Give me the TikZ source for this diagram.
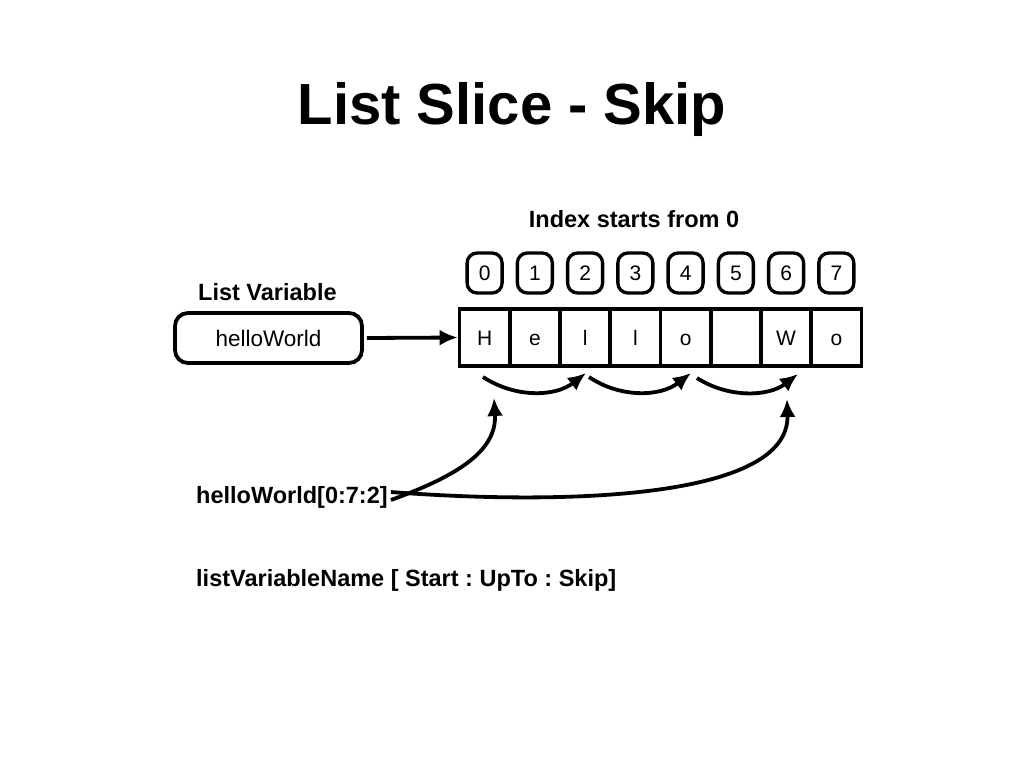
\documentclass[tikz,border=0pt]{standalone}
\usepackage{fontspec}
\setmainfont{Liberation Sans}
\usetikzlibrary{arrows.meta}
\frenchspacing
\tikzset{
  cell/.style={draw, line width=3.6pt, minimum width=50.25pt, minimum height=57pt, inner sep=0pt, text height=15pt, text depth=0pt, font=\fontsize{21}{23}\selectfont},
  idx/.style={draw, line width=3.3pt, rounded corners=10pt, minimum width=35pt, minimum height=40pt, inner sep=0pt, font=\fontsize{21}{23}\selectfont},
  varbox/.style={draw, line width=3.8pt, rounded corners=13pt, minimum width=187pt, minimum height=50pt, inner sep=0pt, font=\fontsize{22.5}{24}\selectfont},
  lbl/.style={font=\bfseries\fontsize{23.5}{25}\selectfont, inner sep=0pt},
  arr/.style={line width=3.8pt, -{Latex[length=18pt,width=16pt]}},
}
\begin{document}
\begin{tikzpicture}[x=1pt,y=-1pt]
\useasboundingbox[fill=white] (0,0) rectangle (1024,768);
\node[font=\bfseries\fontsize{58}{60}\selectfont] (title) at (512,110) {List Slice - Skip};
\node[lbl] (idxlbl) at (634,219) {Index starts from 0};
\node[lbl, anchor=west] (lv) at (198,292) {List Variable};
\node[varbox] (hw) at (268.5,338) {helloWorld};
\foreach \t [count=\i from 0] in {H,e,l,l,o,{},W,o} {
  \node[cell] (c\i) at ({484.6+50.25*\i},337.5) {\t};
  \node[idx] (n\i) at ({484.6+50.25*\i},273) {\i};
}
\draw[arr] ([xshift=3pt]hw.east) -- (c0.west);
% skip arrows
\coordinate (a0) at (483,377);
\coordinate (a1) at (586,373);
\coordinate (a2) at (589,377);
\coordinate (a3) at (691,373);
\coordinate (a4) at (697,378);
\coordinate (a5) at (798,374);
\draw[arr] (a0) .. controls (515,398) and (555,397) .. (a1);
\draw[arr] (a2) .. controls (620,398) and (660,397) .. (a3);
\draw[arr] (a4) .. controls (728,398) and (768,397) .. (a5);
% slice label
\node[lbl, anchor=west] (sl) at (196,497) {helloWorld[0:7:2]};
\coordinate (t0) at (494,398);
\coordinate (t6) at (787,399);
\draw[arr] ([xshift=3pt,yshift=-3pt]sl.east) .. controls (460,475) and (497,450) .. (t0);
\draw[arr] ([xshift=3pt,yshift=5pt]sl.east) .. controls (560,505) and (790,500) .. (t6);
\node[lbl, anchor=west] (syn) at (196,580) {listVariableName [ Start : UpTo : Skip]};
\end{tikzpicture}
\end{document}
